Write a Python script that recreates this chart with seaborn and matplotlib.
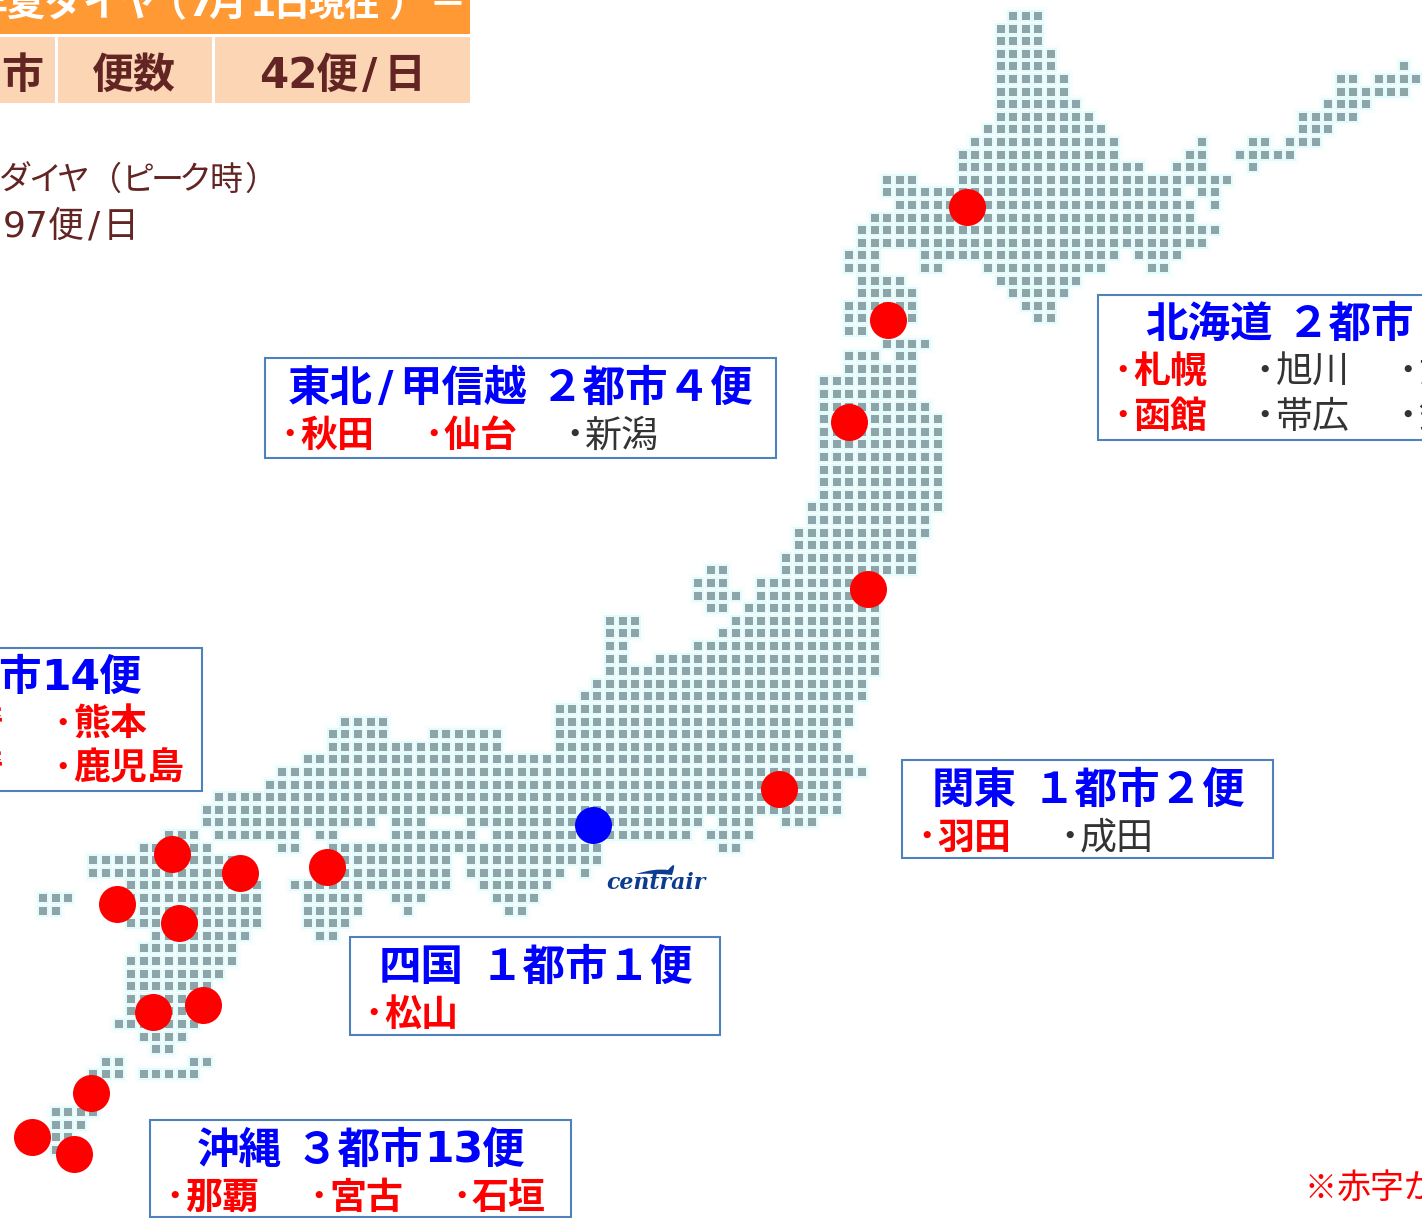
import matplotlib
matplotlib.use("Agg")
import pandas as pd
import seaborn as sns
import matplotlib.pyplot as plt
from matplotlib.patches import Rectangle, PathPatch
from matplotlib.path import Path

# dotted map: row -> spans of grid columns
land_rows = {
    0: [(77, 79)], 1: [(76, 79)], 2: [(76, 79)], 3: [(76, 80)],
    4: [(76, 80), (108, 108)],
    5: [(76, 81), (103, 104), (106, 109)],
    6: [(76, 81), (103, 108)],
    7: [(76, 82), (102, 105)],
    8: [(76, 83), (100, 104)],
    9: [(75, 84), (100, 102)],
    10: [(74, 85), (92, 92), (96, 97), (99, 101)],
    11: [(73, 85), (91, 92), (95, 99)],
    12: [(73, 87), (90, 92), (96, 96)],
    13: [(67, 69), (73, 94)],
    14: [(67, 90), (92, 93)],
    15: [(68, 91), (93, 93)],
    16: [(66, 91)], 17: [(65, 93)], 18: [(65, 92)],
    19: [(64, 66), (70, 85), (87, 90)],
    20: [(64, 66), (70, 71), (75, 84), (88, 89)],
    21: [(65, 68), (76, 82)],
    22: [(65, 69), (77, 81)],
    23: [(64, 69), (78, 80)],
    24: [(64, 69), (79, 80)],
    25: [(64, 65)],
    26: [(67, 70)],
    27: [(64, 66), (68, 69)],
    28: [(64, 69)], 29: [(62, 69)], 30: [(62, 69)], 31: [(62, 70)],
    32: [(62, 71)], 33: [(62, 71)], 34: [(62, 71)], 35: [(62, 71)],
    36: [(62, 71)], 37: [(62, 71)], 38: [(62, 71)], 39: [(61, 71)],
    40: [(61, 70)], 41: [(60, 70)], 42: [(60, 69)], 43: [(59, 69)],
    44: [(53, 54), (59, 69)],
    45: [(52, 54), (57, 66)],
    46: [(52, 55), (57, 66)],
    47: [(53, 54), (56, 66)],
    48: [(45, 47), (55, 66)],
    49: [(45, 47), (54, 66)],
    50: [(45, 46), (52, 66)],
    51: [(45, 46), (49, 66)],
    52: [(45, 66)], 53: [(44, 65)], 54: [(43, 65)],
    55: [(41, 64)],
    56: [(24, 27), (41, 64)],
    57: [(23, 27), (31, 36), (41, 63)],
    58: [(23, 36), (41, 63)],
    59: [(21, 64)], 60: [(19, 65)], 61: [(18, 63)],
    62: [(14, 63)], 63: [(13, 63)],
    64: [(13, 26), (28, 30), (34, 52), (54, 56), (59, 61)],
    65: [(10, 12), (14, 20), (22, 23), (28, 34), (36, 51), (53, 56)],
    66: [(8, 13), (19, 20), (23, 44), (54, 55)],
    67: [(4, 15), (23, 32), (34, 44)],
    68: [(4, 16), (22, 32), (34, 41), (43, 43)],
    69: [(7, 17), (20, 32), (35, 40)],
    70: [(0, 2), (7, 17), (21, 25), (28, 30), (36, 39)],
    71: [(0, 1), (8, 17), (21, 25), (29, 29), (37, 38)],
    72: [(7, 17), (21, 24)],
    73: [(9, 16), (22, 23)],
    74: [(8, 15)], 75: [(7, 15)], 76: [(7, 14)], 77: [(7, 13)],
    78: [(7, 12)], 79: [(7, 11)], 80: [(6, 12)], 81: [(8, 11)],
    82: [(9, 10)],
    83: [(5, 6), (12, 13)],
    84: [(4, 6), (8, 12)],
    85: [(3, 4)],
    87: [(1, 4)], 88: [(1, 3)], 89: [(1, 2)], 90: [(1, 1)],
}

# airports, in picture pixels
red_x = [967, 888, 849, 868, 779, 172, 240, 327, 117, 179, 203, 153, 91, 32, 74]
red_y = [207, 320, 422, 589, 789, 854, 873, 867, 904, 923, 1005, 1012, 1093, 1137, 1154]
hub_x = [593]
hub_y = [825]

box_x0 = [265, 1098, -10, 902, 350, 150]
box_x1 = [776, 1440, 202, 1273, 720, 571]
box_y0 = [358, 295, 648, 760, 937, 1120]
box_y1 = [458, 440, 791, 858, 1035, 1217]

# region titles come in pieces, the source font is wider in the digits and slash
title_parts = ["東北", "/", "甲信越", "２都市４便", "北海道", "２都市", "市", "14", "便", "関東", "１都市２便",
               "四国", "１都市１便", "沖縄", "３都市", "13", "便"]
title_x = [288, 378, 399, 541, 1145, 1287, -2, 41, 99, 932, 1033, 379, 481, 197, 296, 424, 482]
title_y = [386, 386, 386, 386, 322, 322, 675, 675, 675, 788, 788, 965, 965, 1148, 1148, 1148, 1148]

cities = ["秋田", "仙台", "新潟", "札幌", "旭川", "女満別", "函館", "帯広", "釧路",
          "熊本", "鹿児島", "羽田", "成田", "松山", "那覇", "宮古", "石垣"]
city_x = [300, 444, 585, 1133, 1275, 1418, 1133, 1275, 1418, 73, 73, 937, 1080, 384, 185, 329, 472]
city_y = [434, 434, 434, 370, 370, 370, 415, 415, 415, 723, 767, 836, 836, 1013, 1196, 1196, 1196]
city_served = [1, 1, 0, 1, 0, 0, 1, 0, 0, 1, 1, 1, 0, 1, 1, 1, 1]

banner_parts = ["年夏ダイヤ", "（", "7", "月", "1", "日", "現在", "）", "－"]
banner_x = [-30, 149, 188, 208, 250, 272, 308, 388, 428]
peak_parts = ["ダ", "イ", "ヤ", "（", "ピ", "ー", "ク", "時", "）"]
peak_x = [-2, 28, 57, 88, 122, 151, 179, 210, 245]
flights_parts = ["97", "便", "/", "日"]
flights_x = [3, 48, 88, 103]

X0, Y0, PITCH = 43, 16, 12.6
BLUE, RED, BROWN = "#0000FF", "#FF0000", "#632523"
JP = ["Noto Sans CJK JP", "DejaVu Sans"]
PX = 72 / 100  # one pixel in points

cols, rows = [], []
for r, spans in land_rows.items():
    for a, b in spans:
        for c in range(a, b + 1):
            cols.append(X0 + c * PITCH)
            rows.append(Y0 + r * PITCH)
dots = pd.DataFrame({"x": cols, "y": rows})

sns.set_theme(style="white")
plt.rcParams["font.family"] = JP

fig = plt.figure(figsize=(14.22, 12.18), dpi=100)
ax = fig.add_axes([0, 0, 1, 1])

# pale halo first, then the grey squares
sns.scatterplot(data=dots, x="x", y="y", marker="s", s=170, color="#F8FEFE", linewidth=0, ax=ax, zorder=1)
sns.scatterplot(data=dots, x="x", y="y", marker="s", s=85, color="#E4FAFB", linewidth=0, ax=ax, zorder=1)
sns.scatterplot(data=dots, x="x", y="y", marker="s", s=31, color="#8DA5A8", linewidth=0, ax=ax, zorder=2)
sns.scatterplot(x=red_x, y=red_y, s=710, color=RED, linewidth=0, ax=ax, zorder=3)
sns.scatterplot(x=hub_x, y=hub_y, s=710, color=BLUE, linewidth=0, ax=ax, zorder=3)

ax.set_xlim(0, 1422)
ax.set_ylim(1218, 0)
ax.set_axis_off()


def txt(x, y, s, size, color, weight="normal", ha="left"):
    # y is the middle of a kanji, digits and slashes go in DejaVu like the source font
    family = "DejaVu Sans" if s.isascii() else JP
    ax.text(x, y + 0.35 * size, s, fontsize=size * PX, color=color, fontweight=weight,
            family=family, ha=ha, va="baseline", zorder=6)


# boxes
for x0, x1, y0, y1 in zip(box_x0, box_x1, box_y0, box_y1):
    ax.add_patch(Rectangle((x0, y0), x1 - x0, y1 - y0, fc="white", ec="#4F81BD", lw=1.5, zorder=4))

for s, x, y in zip(title_parts, title_x, title_y):
    txt(x, y, s, 42.5, BLUE, "bold")

for s, x, y, served in zip(cities, city_x, city_y, city_served):
    if served:
        txt(x - 20, y, "･", 37, RED, "bold")
        txt(x, y, s, 37, RED, "bold")
    else:
        txt(x - 20, y, "･", 37, "#333333", "bold")
        txt(x, y, s, 37, "#333333")

# names cut off by the left edge
txt(3, 723, "崎", 37, RED, "bold", ha="right")
txt(3, 767, "崎", 37, RED, "bold", ha="right")

# header table
ax.add_patch(Rectangle((-5, -5), 475, 39, fc="#FF9933", ec="none", zorder=4))
for x0, x1 in [(-5, 55), (58, 212), (215, 470)]:
    ax.add_patch(Rectangle((x0, 37), x1 - x0, 66, fc="#FCD5B5", ec="none", zorder=4))
for s, x in zip(banner_parts, banner_x):
    txt(x, 3, s, 38 if s != "現在" else 36, "white", "bold")
txt(1, 73, "市", 42, BROWN, "bold")
txt(92, 73, "便数", 42, BROWN, "bold")
txt(259, 73, "42", 42, BROWN, "bold")
txt(316, 73, "便", 42, BROWN, "bold")
txt(362, 73, "/", 42, BROWN, "bold")
txt(384, 73, "日", 42, BROWN, "bold")

for s, x in zip(peak_parts, peak_x):
    txt(x, 178, s, 33, BROWN)
for s, x in zip(flights_parts, flights_x):
    txt(x, 224, s, 36, BROWN)

txt(1305, 1187, "※", 32, RED)
txt(1337, 1187, "赤字が", 34, RED)

# centrair logo
ax.text(606, 889, "centrair", fontsize=22 * PX, color="#0B3C8F", fontstyle="italic",
        fontweight="bold", family="DejaVu Serif", ha="left", va="baseline", zorder=6)
swoosh = Path([(636, 874), (655, 868), (668, 870), (678, 858), (672, 875), (655, 873), (636, 874)],
              [Path.MOVETO, Path.CURVE3, Path.CURVE3, Path.CURVE3, Path.CURVE3, Path.CURVE3, Path.CURVE3])
ax.add_patch(PathPatch(swoosh, fc="#0B3C8F", ec="none", zorder=6))

fig.savefig("out.png", dpi=100)
